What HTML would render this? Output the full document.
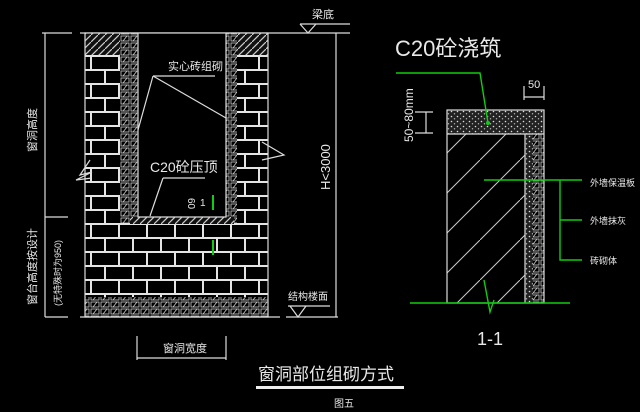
<!DOCTYPE html>
<html><head><meta charset="utf-8"><style>
html,body{margin:0;padding:0;background:#000;}
svg{display:block}
text{font-family:"Liberation Sans","Noto Sans CJK SC",sans-serif;fill:#e8e8e8}
</style></head><body>
<svg width="640" height="412" viewBox="0 0 640 412" xmlns="http://www.w3.org/2000/svg">
<defs>
<pattern id="brick" x="85" y="55" width="56" height="28" patternUnits="userSpaceOnUse">
<rect width="56" height="28" fill="#000"/>
<g stroke="#e4e4e4" stroke-width="2" fill="none">
<line x1="0" y1="1" x2="56" y2="1"/><line x1="0" y1="15" x2="56" y2="15"/>
<line x1="6" y1="0" x2="6" y2="14"/><line x1="34" y1="0" x2="34" y2="14"/>
<line x1="20" y1="14" x2="20" y2="28"/><line x1="48" y1="14" x2="48" y2="28"/>
</g></pattern>
<pattern id="hatch" width="7" height="7" patternUnits="userSpaceOnUse">
<rect width="7" height="7" fill="#111"/>
<path d="M0 7L7 0" stroke="#ccc" stroke-width="1.2"/></pattern>
<pattern id="small" x="0" y="0" width="10" height="7" patternUnits="userSpaceOnUse">
<rect width="10" height="7" fill="#000"/>
<rect x="1" y="1" width="8" height="5" fill="none" stroke="#ccc" stroke-width="0.8"/>
<path d="M3 6L7 1" stroke="#ccc" stroke-width="0.8"/></pattern>
<pattern id="dots" width="6" height="5" patternUnits="userSpaceOnUse">
<rect width="6" height="5" fill="#222"/><circle cx="1.5" cy="1.5" r="0.8" fill="#ddd"/><circle cx="4.5" cy="3.8" r="0.7" fill="#bbb"/></pattern>
<pattern id="diag" width="40" height="40" patternUnits="userSpaceOnUse">
<rect width="40" height="40" fill="#000"/><path d="M0 40L40 0" stroke="#ccc" stroke-width="1"/></pattern>
</defs>

<g stroke="#ddd" fill="none" stroke-width="1.2">
<line x1="42" y1="33" x2="72" y2="33"/><line x1="80" y1="33" x2="350" y2="33"/>
<line x1="45" y1="33" x2="45" y2="317"/><line x1="45" y1="217" x2="68" y2="217"/>
<line x1="80" y1="317" x2="280" y2="317"/><line x1="45" y1="317" x2="68" y2="317"/>
<line x1="286" y1="317" x2="338" y2="317"/>
<line x1="336" y1="33" x2="336" y2="317"/>
<line x1="300" y1="24" x2="350" y2="24"/><path d="M300 24L308 33L316 24"/>
<line x1="288" y1="306" x2="330" y2="306"/><path d="M290 306L298 317L306 306"/>
</g>
<rect x="85" y="55" width="183" height="242" fill="url(#brick)"/>
<rect x="138" y="33" width="88" height="184" fill="#000"/>
<rect x="85" y="33" width="43" height="22" fill="url(#hatch)"/>
<rect x="236" y="33" width="32" height="22" fill="url(#hatch)"/>
<rect x="120" y="33" width="18" height="190" fill="url(#small)"/>
<rect x="226" y="33" width="11" height="190" fill="url(#small)"/>
<rect x="130" y="217" width="104" height="7" fill="url(#hatch)"/>
<rect x="85" y="297" width="183" height="20" fill="url(#small)"/>
<g stroke="#ddd" fill="none" stroke-width="1.2">
<rect x="85" y="33" width="183" height="284"/>
<polyline points="138,33 138,217 226,217 226,33"/>
<polyline points="153,76 215,76"/><polyline points="153,76 138,130"/><polyline points="153,76 226,118"/>
<polyline points="163,178 205,178"/><polyline points="163,178 150,216"/>
<polyline points="90,160 80,175 92,172 76,180 92,178"/>
<polyline points="262,142 284,155 262,160"/>
<line x1="137" y1="336" x2="137" y2="360"/><line x1="226" y1="336" x2="226" y2="360"/><line x1="137" y1="358" x2="226" y2="358"/>
</g>
<line x1="213" y1="195" x2="213" y2="210" stroke="#1c1" stroke-width="2"/>
<line x1="213" y1="240" x2="213" y2="255" stroke="#1c1" stroke-width="2"/>
<text x="312" y="18" font-size="11">梁底</text>
<text x="168" y="70" font-size="11">实心砖组砌</text>
<text x="150" y="172" font-size="14">C20砼压顶</text>
<text x="200" y="206" font-size="10">1</text>
<text transform="translate(188,198) rotate(90)" font-size="10">60</text>
<text transform="translate(330,190) rotate(-90)" font-size="13">H&lt;3000</text>
<text transform="translate(36,152) rotate(-90)" font-size="11">窗洞高度</text>
<text transform="translate(36,305) rotate(-90)" font-size="11">窗台高度按设计</text>
<text transform="translate(61,306) rotate(-90)" font-size="9">(无特殊时为950)</text>
<text x="288" y="300" font-size="10">结构楼面</text>
<text x="163" y="352" font-size="11">窗洞宽度</text>
<text x="258" y="380" font-size="17">窗洞部位组砌方式</text>
<rect x="256" y="386" width="148" height="3" fill="#eee"/>
<text x="334" y="407" font-size="10">图五</text>

<rect x="447" y="134" width="78" height="169" fill="url(#diag)"/>
<rect x="447" y="110" width="97" height="24" fill="url(#dots)"/>
<rect x="525" y="134" width="8" height="169" fill="url(#dots)"/>
<rect x="533" y="134" width="11" height="169" fill="url(#small)"/>
<g stroke="#ddd" fill="none" stroke-width="1.2">
<rect x="447" y="110" width="97" height="193"/>
<line x1="447" y1="134" x2="544" y2="134"/>
<line x1="525" y1="134" x2="525" y2="303"/>
<line x1="415" y1="112" x2="433" y2="112"/><line x1="415" y1="133" x2="433" y2="133"/><line x1="426" y1="112" x2="426" y2="133"/>
<line x1="524" y1="86" x2="524" y2="100"/><line x1="544" y1="86" x2="544" y2="100"/><line x1="524" y1="97" x2="544" y2="97"/>
</g>
<g stroke="#1c1" fill="none" stroke-width="1.4">
<polyline points="396,73 480,73 488,123"/>
<line x1="410" y1="303" x2="570" y2="303"/>
<polyline points="484,280 490,312 494,300"/>
<line x1="484" y1="180" x2="582" y2="180"/>
<polyline points="560,180 560,260 582,260"/><line x1="560" y1="220" x2="582" y2="220"/>
</g>
<circle cx="488" cy="123" r="2" fill="#1c1"/>
<text x="395" y="56" font-size="22">C20砼浇筑</text>
<text transform="translate(413,142) rotate(-90)" font-size="12">50~80mm</text>
<text x="528" y="88" font-size="11">50</text>
<text x="590" y="186" font-size="9">外墙保温板</text>
<text x="590" y="224" font-size="9">外墙抹灰</text>
<text x="590" y="264" font-size="9">砖砌体</text>
<text x="477" y="345" font-size="18" font-family="Liberation Serif">1-1</text>
</svg>
</body></html>
